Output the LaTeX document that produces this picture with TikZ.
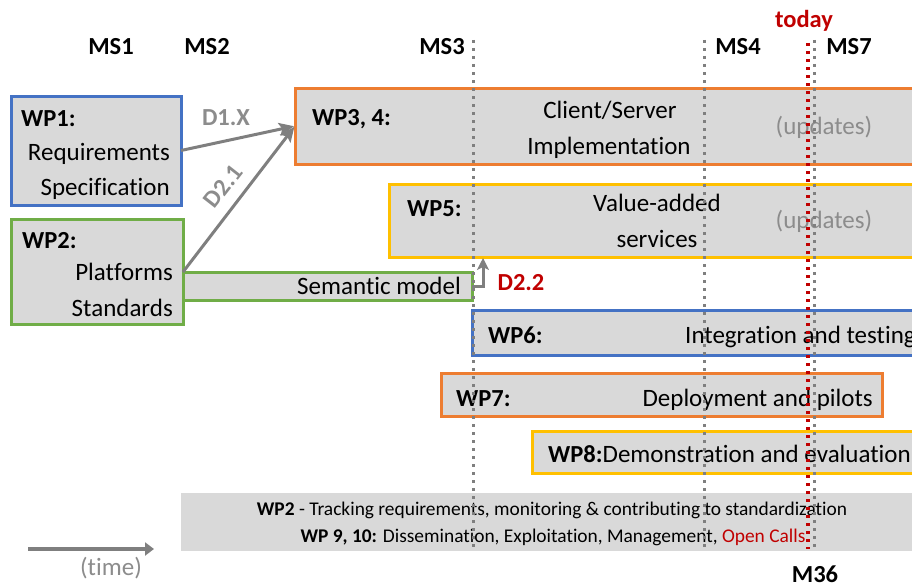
\documentclass[tikz,border=0pt]{standalone}
\usepackage{fontspec}
\setmainfont[Ligatures=NoCommon]{Carlito}
\usetikzlibrary{arrows.meta}
\definecolor{boxgray}{HTML}{D9D9D9}
\definecolor{wpblue}{HTML}{4472C4}
\definecolor{wpgreen}{HTML}{70AD47}
\definecolor{wporange}{HTML}{ED7D31}
\definecolor{wpyellow}{HTML}{FFC000}
\definecolor{midgray}{HTML}{7F7F7F}
\definecolor{txtgray}{HTML}{8C8C8C}
\definecolor{darkred}{HTML}{C00000}
\newcommand{\mainsize}{\fontsize{25}{30}\selectfont}
\newcommand{\bsize}{\fontsize{24.5}{30}\selectfont\bfseries}
\begin{document}
\begin{tikzpicture}[x=1pt,y=-1pt,
  font=\mainsize,
  wpbox/.style={draw, fill=boxgray, line width=3pt, inner sep=0pt, outer sep=0pt, anchor=north west},
  txt/.style={inner sep=0pt, text height=16pt, text depth=0pt},
  btxt/.style={txt, font=\bsize},
  small/.style={inner sep=0pt, text height=12.4pt, text depth=0pt, font=\fontsize{19.4}{23}\selectfont},
  msline/.style={draw=midgray, line width=3pt, dash pattern=on 3pt off 5pt},
  todayline/.style={draw=darkred, line width=3.5pt, dash pattern=on 3pt off 5pt},
  conn/.style={draw=midgray, line width=3pt, -{Stealth[length=15pt,width=13pt,inset=3pt]}},
]
\useasboundingbox (0,0) rectangle (912,586);
\clip (0,0) rectangle (912,586);

% work package boxes
\node[wpbox, draw=wpblue,   minimum width=170pt, minimum height=109pt] (wp1)  at (11,96) {};
\node[wpbox, draw=wpgreen,  minimum width=172pt, minimum height=105pt] (wp2)  at (11,219) {};
\node[wpbox, draw=wpgreen,  minimum width=289pt, minimum height=28pt]  (sem)  at (183,272) {};
\node[wpbox, draw=wporange, minimum width=630pt, minimum height=76pt]  (wp34) at (295,88) {};
\node[wpbox, draw=wpyellow, minimum width=536pt, minimum height=73pt]  (wp5)  at (389,184) {};
\node[wpbox, draw=wpblue,   minimum width=453pt, minimum height=45pt]  (wp6)  at (472,310) {};
\node[wpbox, draw=wporange, minimum width=441pt, minimum height=43pt]  (wp7)  at (441,373) {};
\node[wpbox, draw=wpyellow, minimum width=393pt, minimum height=42pt]  (wp8)  at (532,431) {};
\node[fill=boxgray, inner sep=0pt, anchor=north west, minimum width=744pt, minimum height=58pt] (cross) at (181,493) {};

% box texts
\node[btxt, anchor=west] (t1a) at (21,118) {WP1:};
\node[txt, anchor=east] (t1b) at (170,152) {Requirements};
\node[txt, anchor=east] (t1c) at (170,187) {Specification};
\node[btxt, anchor=west] (t2a) at (22,240) {WP2:};
\node[txt, anchor=east] (t2b) at (173,272) {Platforms};
\node[txt, anchor=east] (t2c) at (173,308) {Standards};
\node[txt, anchor=east] (tsem) at (461,286) {Semantic model};
\node[btxt, anchor=west] (t34a) at (312,117) {WP3, 4:};
\node[txt] (t34b) at (610,110) {Client/Server};
\node[txt] (t34c) at (609,146) {Implementation};
\node[txt, text=txtgray] (t34d) at (824,126) {(updates)};
\node[btxt, anchor=west] (t5a) at (407,208) {WP5:};
\node[txt] (t5b) at (657,203) {Value-added};
\node[txt] (t5c) at (657,239) {services};
\node[txt, text=txtgray] (t5d) at (824,220) {(updates)};
\node[btxt, anchor=west] (t6a) at (488,335) {WP6:};
\node[txt, anchor=west] (t6b) at (685,335) {Integration and testing};
\node[btxt, anchor=west] (t7a) at (456,398) {WP7:};
\node[txt, anchor=east] (t7b) at (873,398) {Deployment and pilots};
\node[txt, anchor=west] (t8) at (548,454) {{\bsize WP8:}Demonstration and evaluation};
\node[small] (tx1) at (552,509) {\textbf{WP2} - Tracking requirements, monitoring \& contributing to standardization};
\node[small] (tx2) at (553,536) {\textbf{WP 9, 10:} Dissemination, Exploitation, Management, \textcolor{darkred}{Open Calls}};

% milestone labels
\node[btxt] (ms1) at (111,47) {MS1};
\node[btxt] (ms2) at (207,47) {MS2};
\node[btxt] (ms3) at (442,47) {MS3};
\node[btxt] (ms4) at (738,47) {MS4};
\node[btxt] (ms7) at (849,47) {MS7};
\node[btxt, text=darkred] (today) at (804,20) {today};
\node[btxt] (m36) at (815,574) {M36};

% milestone lines
\coordinate (l3a) at (473,40);  \coordinate (l3b) at (473,549);
\coordinate (l4a) at (704,40);  \coordinate (l4b) at (704,549);
\coordinate (l7a) at (814,40);  \coordinate (l7b) at (814,549);
\coordinate (lta) at (808,43);  \coordinate (ltb) at (808,549);
\draw[msline] (l3a) -- (l3b);
\draw[msline] (l4a) -- (l4b);
\draw[msline] (l7a) -- (l7b);
\draw[todayline] (lta) -- (ltb);

% deliverable arrows
\draw[conn, shorten >=1pt] (wp1.east) -- (wp34.west);
\draw[conn, shorten >=1pt] (sem.north west) -- (wp34.west);
\coordinate (d22tip) at (483,258);
\draw[conn, -{Stealth[length=12pt,width=12pt,inset=3pt]}] (sem.east) -| (d22tip);
\node[btxt, text=txtgray] (d1x) at (226,117) {D1.X};
\node[btxt, text=txtgray, rotate=52] (d21) at (223,186) {D2.1};
\node[btxt, text=darkred] (d22) at (521,282) {D2.2};

% time axis
\coordinate (time0) at (28,549);
\coordinate (time1) at (154,549);
\draw[draw=midgray, line width=4pt, -{Triangle[length=9pt,width=13pt]}] (time0) -- (time1);
\node[txt, text=txtgray] (tlabel) at (111,567) {(time)};
\end{tikzpicture}
\end{document}
